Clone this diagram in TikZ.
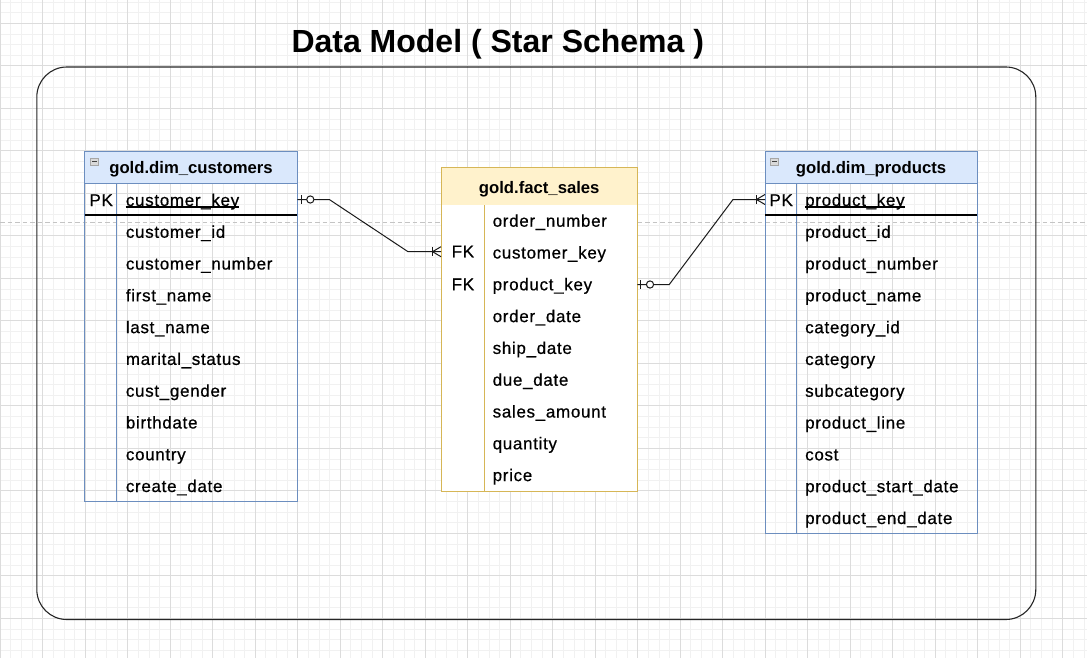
\documentclass[tikz,border=0pt]{standalone}
\usepackage{fontspec}
\setmainfont{Liberation Sans}
\newfontfamily\rowfont[LetterSpace=4,FakeBold=0.6]{Liberation Sans}
\usetikzlibrary{calc}
\definecolor{dimfill}{HTML}{DAE8FC}
\definecolor{dimline}{HTML}{6C8EBF}
\definecolor{factfill}{HTML}{FFF2CC}
\definecolor{factline}{HTML}{D6B656}
\definecolor{gridminor}{HTML}{F1F1F1}
\definecolor{gridmajor}{HTML}{DCDCDC}
\definecolor{pagebreak}{HTML}{C4C4C4}
\begin{document}
\begin{tikzpicture}[x=1pt,y=-1pt,
  rowtext/.style={anchor=base west,inner sep=0pt,font=\rowfont\fontsize{17}{20}\selectfont},
  headtext/.style={anchor=base,inner sep=0pt,font=\bfseries\fontsize{16.7}{20}\selectfont},
  titletext/.style={anchor=base,inner sep=0pt,font=\bfseries\fontsize{32}{38}\selectfont},
  keyline/.style={line width=1.1pt},
  conn/.style={line width=1pt,black!90},
  iconbox/.style={draw=gray!70,fill=gray!30,minimum width=8pt,minimum height=7.5pt,inner sep=0pt},
  dimframe/.style={draw=dimline,line width=1pt},
  factframe/.style={draw=factline,line width=1pt}]
\useasboundingbox (0,0) rectangle (1087,658);
\clip (0,0) rectangle (1087,658);
\fill[white] (0,0) rectangle (1087,658);
% grid
\foreach \i in {0,...,102} \draw[gridminor,line width=0.8pt] ({0.2+10.625*\i},0) -- ++(0,658);
\foreach \j in {0,...,62} \draw[gridminor,line width=0.8pt] (0,{2.05+10.625*\j}) -- ++(1087,0);
\foreach \i in {0,...,25} \draw[gridmajor,line width=0.8pt] ({0.2+42.5*\i},0) -- ++(0,658);
\foreach \j in {0,...,15} \draw[gridmajor,line width=0.8pt] (0,{23.3+42.5*\j}) -- ++(1087,0);
% page break line
\draw[pagebreak,line width=1.2pt,dash pattern=on 4.5pt off 3pt] (0,222.5) -- (1087,222.5);
% title
\node[titletext] (title) at (497.8,52.5) {Data Model ( Star Schema )};
% outer frame
\draw[black!85,line width=1.1pt,rounded corners=30pt] (36.8,67) rectangle (1035.8,619.5);

% ---------- left table: gold.dim_customers ----------
\fill[dimfill] (84.5,151.7) rectangle (297.3,183.5);
\draw[dimframe] (84.5,151.7) rectangle (297.3,501.7);
\draw[dimframe] (84.5,183.5) -- (297.3,183.5);
\draw[dimframe] (116.7,183.5) -- (116.7,501.7);
\draw[keyline] (84.5,215) -- (297.3,215);
\node[iconbox] (licon) at (94.3,161.5) {};
\draw[black!75,line width=0.9pt] ([xshift=2pt]licon.west) -- ([xshift=-2pt]licon.east);
\node[headtext] (lhead) at (191,173.3) {gold.dim\_customers};
\node[rowtext] (lpk) at (89.3,206) {PK};
\node[rowtext] (lr0) at (125.7,206) {customer\_key};
\draw[line width=1.1pt] ([yshift=-1pt]lr0.base west) -- ([yshift=-1pt]lr0.base east);
\foreach \t [count=\k] in {customer\_id,customer\_number,first\_name,last\_name,marital\_status,cust\_gender,birthdate,country,create\_date}
  \node[rowtext] (lr\k) at (125.7,{206+31.78*\k}) {\t};

% ---------- fact table: gold.fact_sales ----------
\fill[factfill] (441,167.3) rectangle (637.3,205);
\fill[white] (441,205) rectangle (637.3,491.7);
\draw[factframe] (441,167.3) rectangle (637.3,491.7);
\draw[factframe] (484.3,205) -- (484.3,491.7);
\node[headtext] (fhead) at (539.2,193.5) {gold.fact\_sales};
\node[rowtext] (ffk1) at (451.5,257.3) {FK};
\node[rowtext] (ffk2) at (451.5,290.2) {FK};
\foreach \t [count=\k from 0] in {order\_number,customer\_key,product\_key,order\_date,ship\_date,due\_date,sales\_amount,quantity,price}
  \node[rowtext] (fr\k) at (492.5,{226.7+31.8*\k}) {\t};

% ---------- right table: gold.dim_products ----------
\fill[dimfill] (765,151.7) rectangle (977.3,183.5);
\draw[dimframe] (765,151.7) rectangle (977.3,533.5);
\draw[dimframe] (765,183.5) -- (977.3,183.5);
\draw[dimframe] (796.7,183.5) -- (796.7,533.5);
\draw[keyline] (765,215) -- (977.3,215);
\node[iconbox] (ricon) at (774.5,161.5) {};
\draw[black!75,line width=0.9pt] ([xshift=2pt]ricon.west) -- ([xshift=-2pt]ricon.east);
\node[headtext] (rhead) at (871,173.3) {gold.dim\_products};
\node[rowtext] (rpk) at (769.3,206) {PK};
\node[rowtext] (rr0) at (805,206) {product\_key};
\draw[line width=1.1pt] ([yshift=-1pt]rr0.base west) -- ([yshift=-1pt]rr0.base east);
\foreach \t [count=\k] in {product\_id,product\_number,product\_name,category\_id,category,subcategory,product\_line,cost,product\_start\_date,product\_end\_date}
  \node[rowtext] (rr\k) at (805,{206+31.8*\k}) {\t};

% ---------- connectors ----------
\coordinate (c1a) at (297.3,199.5);
\coordinate (c1b) at (441,251.7);
\draw[conn] (c1a) -- ++(32,0) -- ($(c1b)+(-33,0)$) -- (c1b);
\draw[conn] ($(c1a)+(4,-4.5)$) -- ++(0,9);
\draw[conn,fill=white] ($(c1a)+(13,0)$) circle (3.6pt);
\draw[conn] ($(c1b)+(-8.5,-4.5)$) -- ++(0,9);
\draw[conn] ($(c1b)+(0,-5)$) -- ($(c1b)+(-8.5,0)$) -- ($(c1b)+(0,5)$);

\coordinate (c2a) at (637.3,284.5);
\coordinate (c2b) at (765,199.5);
\draw[conn] (c2a) -- ++(32,0) -- ($(c2b)+(-32,0)$) -- (c2b);
\draw[conn] ($(c2a)+(3.5,-4.5)$) -- ++(0,9);
\draw[conn,fill=white] ($(c2a)+(12.7,0)$) circle (3.6pt);
\draw[conn] ($(c2b)+(-8.5,-4.5)$) -- ++(0,9);
\draw[conn] ($(c2b)+(0,-5)$) -- ($(c2b)+(-8.5,0)$) -- ($(c2b)+(0,5)$);
\end{tikzpicture}
\end{document}
